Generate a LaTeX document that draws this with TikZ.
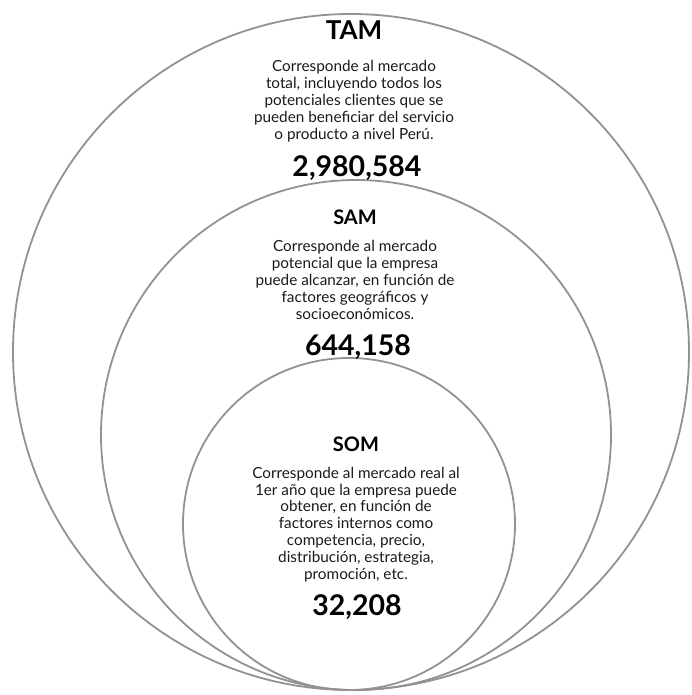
\documentclass[tikz,border=0pt]{standalone}
\usepackage{fontspec}
\setmainfont{Lato}
\definecolor{ringgray}{HTML}{929292}
\definecolor{bodyink}{HTML}{1A1A1A}
\begin{document}
\begin{tikzpicture}[x=1pt,y=-1pt,
  ring/.style={draw=ringgray,line width=1.8pt},
  title/.style={font=\bfseries\fontsize{#1}{#1}\selectfont,inner sep=0pt,anchor=base,text=black},
  body/.style={font=\fontsize{15.3}{16.9}\selectfont,align=center,inner sep=0pt,anchor=base,text=bodyink},
  figure/.style={font=\bfseries\fontsize{28.5}{28.5}\selectfont,inner sep=0pt,anchor=base,text=black}]
\useasboundingbox (0,0) rectangle (691,695);
% market rings, all touching near the bottom edge
\draw[ring] (351,352) circle[radius=338pt];
\draw[ring] (356,435) circle[radius=255pt];
\draw[ring] (349,524) circle[radius=166pt];
% TAM (body nodes are placed by the baseline of their last line)
\node[title=26] (tamT) at (354,39.3) {TAM};
\node[body] (tamB) at (354,139.3) {Corresponde al mercado\\total, incluyendo todos los\\potenciales clientes que se\\pueden beneficiar del servicio\\o producto a nivel Perú.};
\node[figure] (tamN) at (357,176) {2,980,584};
% SAM
\node[title=20] (samT) at (355,224.3) {SAM};
\node[body] (samB) at (355,319.3) {Corresponde al mercado\\potencial que la empresa\\puede alcanzar, en función de\\factores geográficos y\\socioeconómicos.};
\node[figure] (samN) at (358,355) {644,158};
% SOM
\node[title=20] (somT) at (356,451.7) {SOM};
\node[body] (somB) at (356,579.5) {Corresponde al mercado real al\\1er año que la empresa puede\\obtener, en función de\\factores internos como\\competencia, precio,\\distribución, estrategia,\\promoción, etc.};
\node[figure] (somN) at (357,615) {32,208};
\end{tikzpicture}
\end{document}
